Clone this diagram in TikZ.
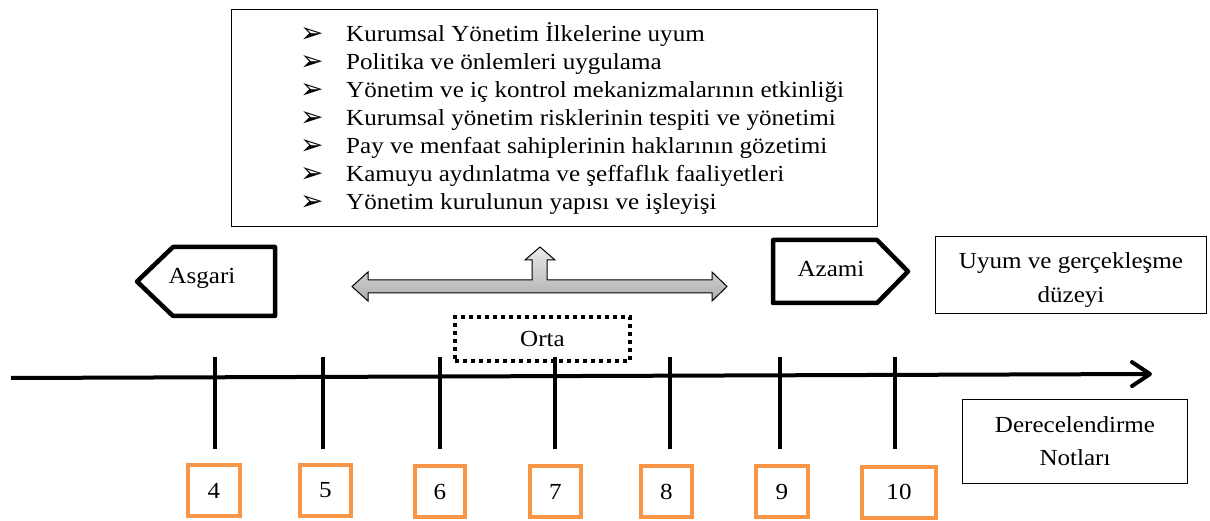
\documentclass[tikz,border=0pt]{standalone}
\usepackage{fontspec}
\setmainfont{Liberation Serif}[FakeStretch=1.09]
\newfontfamily\symfont{DejaVu Sans}
\usetikzlibrary{arrows.meta}
\definecolor{ornj}{HTML}{F79646}
\newcommand{\blt}{\makebox[46pt][l]{\raisebox{-1.5pt}{\symfont\fontsize{28}{28}\selectfont ➢}}}
\tikzset{
  txt/.style={font=\fontsize{23}{28}\selectfont, inner sep=0pt},
  thinbox/.style={draw=black, line width=1.6pt, fill=white},
  pentline/.style={draw=black, line width=4.5pt, line join=round, fill=white},
  numbox/.style={draw=ornj, line width=4pt, minimum height=51pt, inner sep=0pt,
                 font=\fontsize{23}{26}\selectfont},
  tickline/.style={line width=4pt},
  axisline/.style={line width=4pt, -{Straight Barb[length=18pt,width=24pt,round]}},
  dblarrow/.style={draw=black, line width=1pt, line join=miter, top color=black!8, bottom color=black!32},
  dotbox/.style={draw=black, line width=4pt, dash pattern=on 4pt off 4pt, minimum width=175pt, minimum height=44pt}
}
\begin{document}
\begin{tikzpicture}[x=1pt,y=-1pt]
\useasboundingbox (0,0) rectangle (1210,521);
\fill[white] (0,0) rectangle (1210,521);

% top box with list
\node[thinbox, minimum width=646pt, minimum height=217pt, inner sep=0pt] (goals) at (554.5,118) {};
\node[txt, anchor=west, align=left] (list) at (300,118) {%
\blt Kurumsal Yönetim İlkelerine uyum\\
\blt Politika ve önlemleri uygulama\\
\blt Yönetim ve iç kontrol mekanizmalarının etkinliği\\
\blt Kurumsal yönetim risklerinin tespiti ve yönetimi\\
\blt Pay ve menfaat sahiplerinin haklarının gözetimi\\
\blt Kamuyu aydınlatma ve şeffaflık faaliyetleri\\
\blt Yönetim kurulunun yapısı ve işleyişi};

% Asgari pentagon (pointing left)
\draw[pentline] (173,247) -- (275,247) -- (275,316) -- (173,316) -- (137,281.5) -- cycle;
\node[txt] (asgari) at (202,278) {Asgari};

% Azami pentagon (pointing right)
\draw[pentline] (773,240) -- (877,240) -- (908,271.5) -- (877,303) -- (773,303) -- cycle;
\node[txt] (azami) at (831,269) {Azami};

% gray double arrow with up arrow
\draw[dblarrow] (352,286.5) -- (368,272) -- (368,280) -- (532,280) -- (532,260) -- (525,260)
  -- (540,247) -- (555,260) -- (547,260) -- (547,280) -- (712,280) -- (712,272)
  -- (727,286.5) -- (712,301) -- (712,293) -- (368,293) -- (368,301) -- cycle;

% Uyum box
\node[thinbox, minimum width=271pt, minimum height=77pt, txt] (uyum) at (1071,275) {};
\node[txt, align=center, font=\fontsize{23}{34}\selectfont] (uyumtxt) at (1071,280) {Uyum ve gerçekleşme\\düzeyi};

% Orta dotted box
\node[dotbox, txt] (orta) at (542.5,339) {Orta};

% axis
\coordinate (axL) at (11,378);
\coordinate (axR) at (1152,374);
\draw[axisline] (axL) -- (axR);

% ticks
\foreach \x/\n in {215/4,323/5,440/6,555/7,670/8,780/9,895/10}{
  \coordinate (ta\n) at (\x,357);
  \coordinate (tb\n) at (\x,449);
  \draw[tickline] (ta\n) -- (tb\n);
}

% number boxes
\node[numbox, minimum width=52pt] (n4) at (214,490.5) {4};
\node[numbox, minimum width=51pt] (n5) at (325.5,490.5) {5};
\node[numbox, minimum width=50pt] (n6) at (440,491.5) {6};
\node[numbox, minimum width=51pt] (n7) at (555.5,491.5) {7};
\node[numbox, minimum width=51pt] (n8) at (666.5,491.5) {8};
\node[numbox, minimum width=52pt] (n9) at (782,491.5) {9};
\node[numbox, minimum width=74pt] (n10) at (899,492) {10};

% Derecelendirme box
\node[thinbox, minimum width=225pt, minimum height=84pt, align=center, txt, font=\fontsize{23}{33}\selectfont] (dere) at (1075,441.5) {Derecelendirme\\Notları};
\end{tikzpicture}
\end{document}
